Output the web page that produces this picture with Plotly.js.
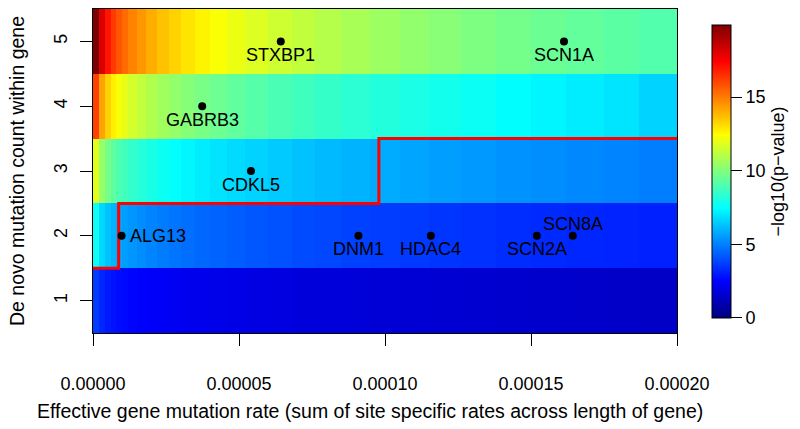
<!DOCTYPE html>
<html>
<head>
<meta charset="utf-8">
<script src="https://cdn.plot.ly/plotly-3.0.1.min.js"></script>
<style>html,body{margin:0;padding:0;background:#fff;}#chart{width:800px;height:429px;}</style>
</head>
<body>
<div id="chart"></div>
<script>
// Column edges of the effective mutation rate grid (units: mutations per gene)
const rateEdges = [0, 2e-6, 4e-6, 6e-6, 8e-6, 10e-6, 12e-6, 15e-6, 18e-6, 22e-6, 26e-6, 30e-6, 35e-6, 40e-6, 46e-6, 52e-6, 60e-6, 68e-6, 76e-6, 85e-6, 95e-6, 105e-6, 115e-6, 126e-6, 138e-6, 150e-6, 162e-6, 175e-6, 187e-6, 200e-6];
const mutationCounts = [1, 2, 3, 4, 5];
const count1 = [3.69, 3.21, 2.99, 2.84, 2.73, 2.65, 2.56, 2.47, 2.39, 2.31, 2.24, 2.18, 2.11, 2.06, 2.00, 1.94, 1.88, 1.83, 1.78, 1.73, 1.69, 1.65, 1.61, 1.57, 1.53, 1.50, 1.46, 1.43, 1.40];
const count2 = [7.68, 6.72, 6.28, 5.99, 5.77, 5.60, 5.42, 5.24, 5.08, 4.92, 4.78, 4.65, 4.53, 4.41, 4.30, 4.18, 4.07, 3.96, 3.87, 3.77, 3.68, 3.60, 3.52, 3.44, 3.37, 3.30, 3.23, 3.17, 3.11];
const count3 = [11.84, 10.41, 9.75, 9.31, 8.98, 8.72, 8.45, 8.19, 7.94, 7.70, 7.50, 7.31, 7.12, 6.94, 6.77, 6.60, 6.43, 6.27, 6.12, 5.98, 5.84, 5.72, 5.60, 5.48, 5.37, 5.27, 5.17, 5.07, 4.95];
const count4 = [16.13, 14.22, 13.34, 12.75, 12.32, 11.97, 11.61, 11.26, 10.93, 10.61, 10.34, 10.08, 9.84, 9.60, 9.37, 9.14, 8.91, 8.70, 8.51, 8.32, 8.13, 7.97, 7.81, 7.65, 7.45, 7.28, 7.12, 6.95, 6.60];
const count5 = [19.9, 18.13, 17.02, 16.29, 15.75, 15.31, 14.87, 14.43, 14.01, 13.62, 13.29, 12.96, 12.65, 12.36, 12.07, 11.78, 11.49, 11.24, 10.99, 10.75, 10.52, 10.32, 10.12, 9.92, 9.73, 9.56, 9.39, 9.23, 9.05];

// Significance threshold (step line)
const thresholdRate = [0, 8.8e-6, 97.9e-6, 200e-6];
const thresholdCount = [1.5, 2.5, 3.5, 3.5];

// Genes
const geneNames = ["STXBP1", "SCN1A", "GABRB3", "CDKL5", "ALG13", "DNM1", "HDAC4", "SCN2A", "SCN8A"];
const geneRates = [6.43e-5, 1.613e-4, 3.74e-5, 5.41e-5, 9.8e-6, 9.09e-5, 1.157e-4, 1.52e-4, 1.643e-4];
const geneCounts = [5, 5, 4, 3, 2, 2, 2, 2, 2];

const xTickVals = [0, 5e-5, 1e-4, 1.5e-4, 2e-4];
const xTickText = ["0.00000", "0.00005", "0.00010", "0.00015", "0.00020"];
const yTickVals = [1, 2, 3, 4, 5];
const cbTickVals = [0, 5, 10, 15];
const xTitle = "Effective gene mutation rate (sum of site specific rates across length of gene)";
const yTitle = "De novo mutation count within gene";
const cbTitle = "\u2212log10(p\u2212value)";

// label placement style per gene
const labelSide = {STXBP1: "below", SCN1A: "below", GABRB3: "below", CDKL5: "below", ALG13: "right", DNM1: "below", HDAC4: "below", SCN2A: "below", SCN8A: "above"};

const FONT = "Liberation Sans, Arial, Helvetica, sans-serif";
const jet = [[0, "#00007F"], [0.125, "#0000FF"], [0.25, "#007FFF"], [0.375, "#00FFFF"], [0.5, "#7FFF7F"], [0.625, "#FFFF00"], [0.75, "#FF7F00"], [0.875, "#FF0000"], [1, "#7F0000"]];

const heat = {
  type: "heatmap",
  x: rateEdges,
  y: mutationCounts,
  z: [count1, count2, count3, count4, count5],
  zmin: 0, zmax: 19.9,
  colorscale: jet,
  zsmooth: false,
  hoverinfo: "skip",
  colorbar: {
    x: (712 - 93) / 584, xanchor: "left", xpad: 0,
    y: 0.4985, yanchor: "middle", ypad: 0,
    thickness: 19, lenmode: "pixels", len: 293,
    outlinewidth: 1, outlinecolor: "#000",
    tickmode: "array", tickvals: cbTickVals,
    ticks: "outside", ticklen: 11, tickcolor: "#000", tickwidth: 1,
    tickprefix: "\u2004",
    tickfont: {family: FONT, size: 18, color: "#000"},
    title: {text: cbTitle, side: "right", font: {family: FONT, size: 18, color: "#000"}}
  }
};

const step = {
  type: "scatter", mode: "lines",
  x: thresholdRate, y: thresholdCount,
  line: {color: "#FF0000", width: 3, shape: "hv"},
  hoverinfo: "skip", showlegend: false
};

const pts = {
  type: "scatter", mode: "markers",
  x: geneRates, y: geneCounts,
  marker: {color: "#000", size: 8},
  hoverinfo: "skip", showlegend: false
};

const annotations = geneNames.map((g, i) => {
  const side = labelSide[g];
  const a = {x: geneRates[i], y: geneCounts[i], xref: "x", yref: "y", text: g, showarrow: false,
    font: {family: FONT, size: 18, color: "#000"}, xanchor: "center", yanchor: "middle"};
  if (side === "below") a.yshift = -13.5;
  else if (side === "above") a.yshift = 11.5;
  else { a.xanchor = "left"; a.xshift = 6; }
  return a;
});

// x-axis title (centred slightly left of the plot centre, as in the original)
annotations.push({
  xref: "paper", yref: "paper", x: (370 - 93) / 584, y: (333 - 411) / 324,
  xanchor: "center", yanchor: "middle", showarrow: false, text: xTitle,
  font: {family: FONT, size: 19.5, color: "#000"}
});

const layout = {
  width: 800, height: 429,
  margin: {l: 93, r: 123, t: 9, b: 96},
  paper_bgcolor: "#fff", plot_bgcolor: "#fff",
  showlegend: false,
  font: {family: FONT, size: 18, color: "#000"},
  xaxis: {
    range: [0, 2e-4], tickmode: "array", tickvals: xTickVals, ticktext: xTickText,
    ticks: "outside", ticklen: 12, tickcolor: "#000", tickwidth: 1,
    ticklabelstandoff: 22,
    showline: true, mirror: true, linecolor: "#000", linewidth: 1,
    showgrid: false, zeroline: false,
    tickfont: {family: FONT, size: 18, color: "#000"}
  },
  yaxis: {
    range: [0.5, 5.5], tickmode: "array", tickvals: yTickVals,
    tickangle: -90,
    ticks: "outside", ticklen: 12, tickcolor: "#000", tickwidth: 1,
    ticklabelstandoff: 6,
    showline: true, mirror: true, linecolor: "#000", linewidth: 1,
    showgrid: false, zeroline: false,
    tickfont: {family: FONT, size: 18, color: "#000"},
    title: {text: yTitle, font: {family: FONT, size: 19.5, color: "#000"}, standoff: 20}
  },
  annotations: annotations
};

Plotly.newPlot("chart", [heat, step, pts], layout, {staticPlot: true, displayModeBar: false});
</script>
</body>
</html>
